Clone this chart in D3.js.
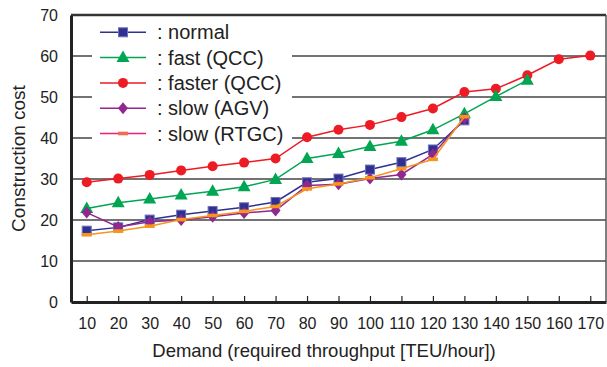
<!DOCTYPE html>
<html>
<head>
<meta charset="utf-8">
<script src="https://d3js.org/d3.v7.min.js"></script>
<style>
  html, body { margin: 0; padding: 0; background: #fff; }
  svg { display: block; font-family: "Liberation Sans", Arial, Helvetica, sans-serif; }
</style>
</head>
<body>
<div id="chart"></div>
<script>
// demand categories (x axis)
const demand = [10, 20, 30, 40, 50, 60, 70, 80, 90, 100, 110, 120, 130, 140, 150, 160, 170];
const yTicks = [0, 10, 20, 30, 40, 50, 60, 70];

// construction cost per series (starting at demand 10)
const normal   = [17.4, 18.2, 20.1, 21.3, 22.2, 23.1, 24.4, 29.2, 30.1, 32.3, 34.1, 37.2, 44.3];
const fastQcc  = [22.8, 24.2, 25.1, 26.1, 27.0, 28.1, 29.9, 35.0, 36.2, 37.9, 39.2, 42.0, 45.9, 50.1, 54.1];
const fasterQcc = [29.2, 30.1, 31.0, 32.1, 33.1, 34.0, 35.0, 40.2, 42.0, 43.2, 45.1, 47.2, 51.2, 52.0, 55.3, 59.2, 60.1];
const slowAgv  = [21.8, 18.3, 19.6, 20.0, 20.8, 21.7, 22.3, 28.4, 28.7, 30.1, 31.1, 36.0, 44.8];
const slowRtgc = [16.4, 17.3, 18.5, 20.1, 21.1, 22.1, 23.3, 27.6, 28.8, 30.3, 32.5, 34.8, 45.2];

const series = [
  { name: ': normal',       values: normal,    line: '#2e3192', fill: '#2e3192', stroke: '#7070b8', shape: 'square' },
  { name: ': fast (QCC)',   values: fastQcc,   line: '#00a651', fill: '#00a651', stroke: '#00a651', shape: 'triangle' },
  { name: ': faster (QCC)', values: fasterQcc, line: '#ed1c24', fill: '#ed1c24', stroke: '#ed1c24', shape: 'circle' },
  { name: ': slow (AGV)',   values: slowAgv,   line: '#92278f', fill: '#92278f', stroke: '#92278f', shape: 'diamond' },
  { name: ': slow (RTGC)',  values: slowRtgc,  line: '#f7941d', fill: '#f7941d', stroke: '#f7941d', shape: 'bar', legendLine: '#ed1e79', legendFill: '#f26c4f' }
];

const width = 607, height = 367;
const plot = { left: 71, right: 606, top: 15, bottom: 302 };

const svg = d3.select('#chart').append('svg')
  .attr('width', width)
  .attr('height', height);

const x = d3.scalePoint().domain(demand).range([plot.left, plot.right]).padding(0.5);
const y = d3.scaleLinear().domain([0, 70]).range([plot.bottom, plot.top]);

// gridlines
svg.append('g')
  .selectAll('line')
  .data(yTicks.filter(d => d > 0 && d < 70))
  .enter().append('line')
  .attr('x1', plot.left).attr('x2', plot.right)
  .attr('y1', d => y(d)).attr('y2', d => y(d))
  .attr('stroke', '#444')
  .attr('stroke-width', 1.5);

// frame (top + right)
svg.append('line')
  .attr('x1', plot.left).attr('x2', plot.right)
  .attr('y1', y(70)).attr('y2', y(70))
  .attr('stroke', '#333').attr('stroke-width', 2.5);
svg.append('line')
  .attr('x1', plot.right).attr('x2', plot.right)
  .attr('y1', plot.top).attr('y2', plot.bottom)
  .attr('stroke', '#555').attr('stroke-width', 1.5);

// y axis
const yAxis = svg.append('g')
  .attr('transform', `translate(${plot.left},0)`)
  .call(d3.axisLeft(y).tickValues(yTicks).tickSize(0).tickPadding(13));
yAxis.select('.domain').attr('stroke', '#222').attr('stroke-width', 3);
yAxis.selectAll('text').style('font-size', '16px').attr('fill', '#222');

// x axis (ticks pointing inward)
const xAxis = svg.append('g')
  .attr('transform', `translate(0,${plot.bottom})`)
  .call(d3.axisBottom(x).tickSizeInner(-6).tickSizeOuter(0).tickPadding(16));
xAxis.select('.domain').attr('stroke', '#222').attr('stroke-width', 3);
xAxis.selectAll('.tick line').attr('stroke', '#222').attr('stroke-width', 1.2);
xAxis.selectAll('text').style('font-size', '16px').attr('fill', '#222');

// axis titles
svg.append('text')
  .attr('transform', `translate(25,${(plot.top + plot.bottom) / 2}) rotate(-90)`)
  .attr('text-anchor', 'middle')
  .style('font-size', '19px')
  .attr('fill', '#222')
  .text('Construction cost');

svg.append('text')
  .attr('x', 324)
  .attr('y', 357)
  .attr('text-anchor', 'middle')
  .style('font-size', '18.5px')
  .attr('fill', '#222')
  .text('Demand (required throughput [TEU/hour])');

// marker drawing
function drawMarker(g, shape, cx, cy, fill, stroke) {
  if (shape === 'square') {
    g.append('rect').attr('x', cx - 4.5).attr('y', cy - 4.5).attr('width', 9).attr('height', 9)
      .attr('fill', fill).attr('stroke', stroke).attr('stroke-width', 1);
  } else if (shape === 'circle') {
    g.append('circle').attr('cx', cx).attr('cy', cy).attr('r', 5).attr('fill', fill);
  } else if (shape === 'triangle') {
    g.append('path').attr('d', `M${cx},${cy - 7}L${cx + 6.5},${cy + 4.5}L${cx - 6.5},${cy + 4.5}Z`).attr('fill', fill);
  } else if (shape === 'diamond') {
    g.append('path').attr('d', `M${cx},${cy - 6}L${cx + 5},${cy}L${cx},${cy + 6}L${cx - 5},${cy}Z`).attr('fill', fill);
  } else if (shape === 'bar') {
    g.append('rect').attr('x', cx - 5).attr('y', cy - 1.8).attr('width', 10).attr('height', 3.6).attr('fill', fill);
  }
}

const line = d3.line().x((d, i) => x(demand[i])).y(d => y(d));

// draw order: red, green, blue, purple, orange
const order = [2, 1, 0, 3, 4];
order.forEach(k => {
  const s = series[k];
  const g = svg.append('g');
  g.append('path')
    .attr('d', line(s.values))
    .attr('fill', 'none')
    .attr('stroke', s.line)
    .attr('stroke-width', 1.5);
  s.values.forEach((v, i) => drawMarker(g, s.shape, x(demand[i]), y(v), s.fill, s.stroke));
});

// legend with white background
const legend = svg.append('g');
legend.append('rect')
  .attr('x', 92).attr('y', 18).attr('width', 200).attr('height', 128)
  .attr('fill', '#fff');
series.forEach((s, i) => {
  const ly = 32.3 + i * 25.3;
  legend.append('line')
    .attr('x1', 100).attr('x2', 146).attr('y1', ly).attr('y2', ly)
    .attr('stroke', s.legendLine || s.line).attr('stroke-width', 1.5);
  drawMarker(legend, s.shape, 123, ly, s.legendFill || s.fill, s.stroke);
  legend.append('text')
    .attr('x', 157).attr('y', ly)
    .attr('dy', '0.35em')
    .style('font-size', '20px')
    .attr('fill', '#222')
    .text(s.name);
});
</script>
</body>
</html>
